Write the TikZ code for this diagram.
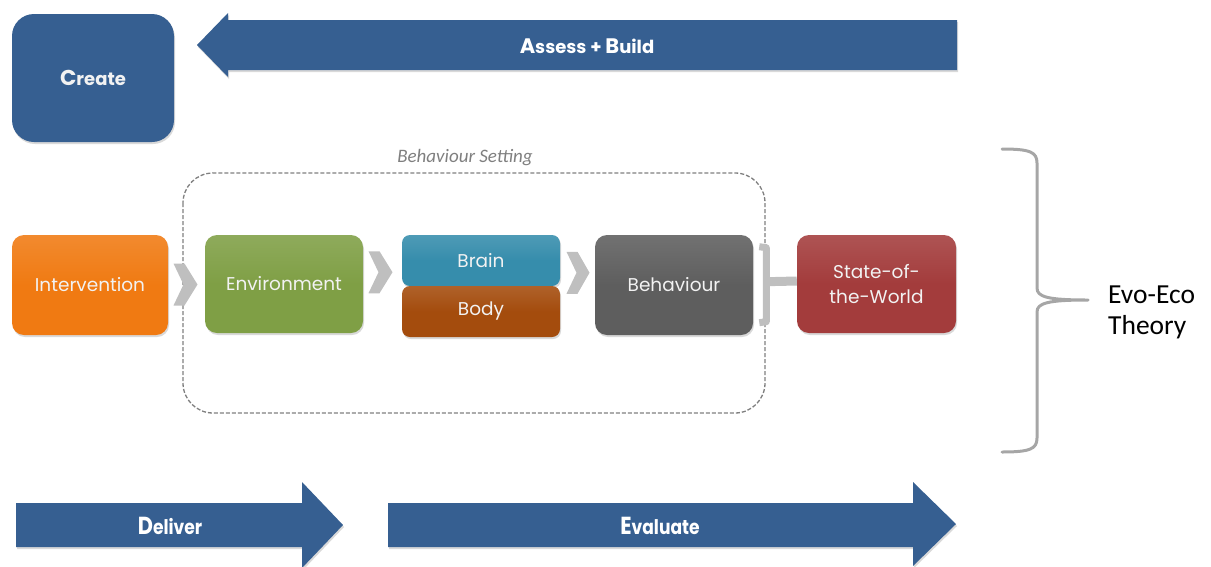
\documentclass[tikz,border=0pt]{standalone}
\usepackage{fontspec}
\setmainfont{Carlito}
\newfontfamily\gothic{Poppins}
\usetikzlibrary{calc,shadows}
\definecolor{cblue}{HTML}{365F91}
\definecolor{corange}{HTML}{F07A12}
\definecolor{cgreen}{HTML}{7F9F45}
\definecolor{cteal}{HTML}{368DAC}
\definecolor{cbrown}{HTML}{A44C0D}
\definecolor{cgray}{HTML}{5E5E5E}
\definecolor{cred}{HTML}{A33C3C}
\definecolor{clight}{HTML}{BFBFBF}
\definecolor{cdash}{HTML}{7F7F7F}
\definecolor{cbrace}{HTML}{A6A6A6}
\begin{document}
\begin{tikzpicture}[x=1pt,y=-1pt,
  box/.style={rounded corners=12pt, text=white!95!black, align=center, inner sep=0pt,
    font=\gothic\fontsize{18.5}{25}\selectfont,
    drop shadow={opacity=0.3, shadow xshift=1pt, shadow yshift=-2pt}},
  shadebox/.style={box, top color=#1!88!white, bottom color=#1, middle color=#1},
  bluearrow/.style={fill=cblue, drop shadow={opacity=0.3, shadow xshift=1pt, shadow yshift=-2pt}},
  bluetext/.style={text=white, font=\gothic\bfseries\fontsize{18}{20}\selectfont, inner sep=0pt},
  chev/.style={fill=clight},
  brace/.style={draw=cbrace, line width=3pt, line cap=round, line join=round}
]
\useasboundingbox (0,0) rectangle (1211,566);

% Create box
\node[box, fill=cblue, rounded corners=22pt, minimum width=162pt, minimum height=128pt,
  font=\gothic\bfseries\fontsize{18}{20}\selectfont] (create) at (93,78) {{\fontsize{21.5}{20}\selectfont C}reate};

% Assess + Build arrow
\fill[bluearrow] (197,45) -- (228,13) -- (228,20) -- (957,20) -- (957,70) -- (228,70) -- (228,77) -- cycle;
\node[bluetext] (assess) at (587,46) {{\fontsize{21}{20}\selectfont A}ssess + {\fontsize{21}{20}\selectfont B}uild};

% Deliver / Evaluate arrows
\fill[bluearrow] (16,503) -- (302,503) -- (302,482) -- (343,525) -- (302,568) -- (302,547) -- (16,547) -- cycle;
\node[bluetext] (deliver) at (170,526) {\scalebox{0.95}[1.12]{{\fontsize{22}{20}\selectfont D}eliver}};
\fill[bluearrow] (388,503) -- (913,503) -- (913,482) -- (956,524) -- (913,566) -- (913,547) -- (388,547) -- cycle;
\node[bluetext] (evaluate) at (660,526) {\scalebox{0.95}[1.12]{{\fontsize{22}{20}\selectfont E}valuate}};

% Behaviour setting frame
\draw[cdash, line width=1.3pt, dash pattern=on 4pt off 2pt, rounded corners=30pt] (183,173) rectangle (765,413);
\node[text=cdash, font=\itshape\fontsize{19}{20}\selectfont] (setting) at (465,158) {Behaviour Setting};

% Boxes
\node[shadebox=corange, minimum width=156pt, minimum height=100pt] (int) at (90,285) {Intervention};
\node[shadebox=cgreen, minimum width=158pt, minimum height=98pt] (env) at (284,284) {Environment};
\node[shadebox=cteal, rounded corners=8pt, minimum width=158pt, minimum height=51pt] (brain) at (481,260.5) {Brain};
\node[shadebox=cbrown, rounded corners=8pt, minimum width=158pt, minimum height=51pt] (body) at (481,311.5) {Body};
\node[shadebox=cgray, minimum width=158pt, minimum height=100pt] (beh) at (674,285) {Behaviour};
\node[shadebox=cred, minimum width=159pt, minimum height=98pt] (world) at (876.5,284) {State-of-\\the-World};

% Chevrons
\fill[chev, shift={($(int.east)!0.5!(env.west)$)}] (-13,-21) -- (-2,-21) -- (11,0) -- (-2,21) -- (-13,21) -- (-3,0) -- cycle;
\fill[chev, shift={($(env.east)!0.5!(brain.west)$)}] (-14,-21) -- (-3,-21) -- (10,0) -- (-3,21) -- (-14,21) -- (-4,0) -- cycle;
\fill[chev, shift={($(brain.east)!0.5!(beh.west)$)}] (-11,-21) -- (0,-21) -- (12,0) -- (0,21) -- (-11,21) -- (-1,0) -- cycle;

% small brace between behaviour and world
\coordinate (sb) at ($(beh.east)!0.3!(world.west)$);
\draw[draw=clight, line width=7pt, line join=round] ([xshift=-7pt,yshift=38pt]sb) -- ([yshift=37pt]sb) -- ([yshift=-37pt]sb) -- ([xshift=-7pt,yshift=-38pt]sb);
\draw[draw=clight, line width=9pt] ([yshift=3pt]sb) -- ([yshift=3pt]world.west);

% Big brace
\coordinate (bt) at (1088,300);
\draw[brace] (1002,149) .. controls (1030,149) and (1037,152) .. (1037,163) -- (1037,288)
  .. controls (1037,297) and (1048,300) .. (bt)
  .. controls (1048,300) and (1037,303) .. (1037,312) -- (1037,438)
  .. controls (1037,449) and (1030,452) .. (1002,452);
\node[anchor=west, align=left, font=\fontsize{27.5}{31}\selectfont, inner sep=0pt] (theory) at (1108,312) {Evo-Eco\\Theory};
\end{tikzpicture}
\end{document}
